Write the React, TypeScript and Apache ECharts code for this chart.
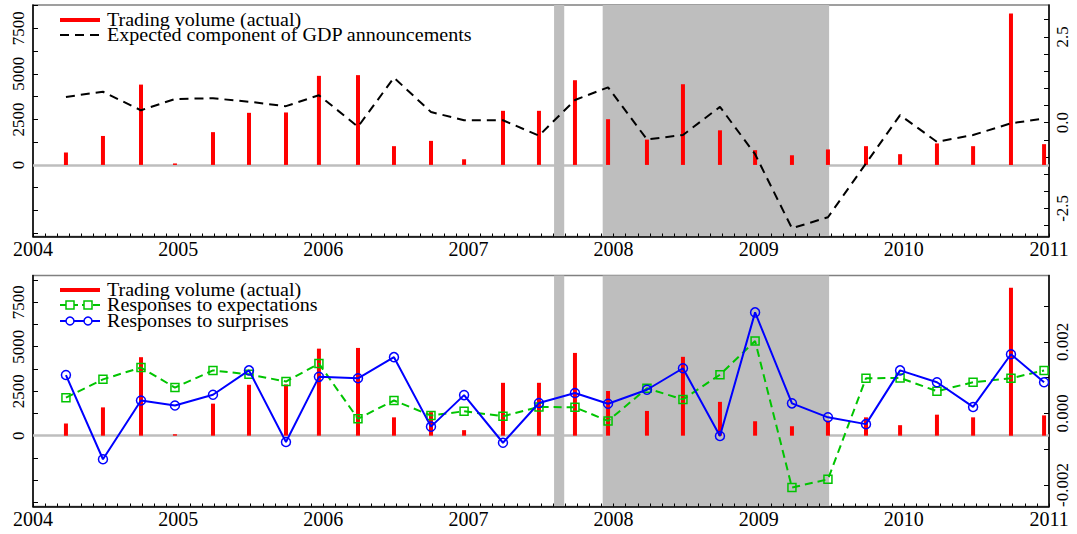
import { useEffect, useRef } from "react";
import * as echarts from "echarts";

// Announcement dates (decimal years)
const dates = [
  2004.227, 2004.482, 2004.744, 2004.978, 2005.24, 2005.488, 2005.743, 2005.97,
  2006.239, 2006.487, 2006.742, 2006.97, 2007.238, 2007.486, 2007.734, 2007.962,
  2008.23, 2008.478, 2008.733, 2008.975, 2009.229, 2009.477, 2009.739, 2009.974,
  2010.228, 2010.477, 2010.738, 2010.966,
];
// Trading volume (actual), left axis
const volume = [
  680, 1590, 4410, 80, 1800, 2860, 2880, 4890, 4930, 1030, 1320, 310, 2970, 2970,
  4650, 2510, 1390, 4430, 1900, 810, 530, 850, 1030, 590, 1180, 1030, 8310, 1140,
];
// Expected component of GDP announcements, top right axis
const expectedComponent = [
  0.75, 0.9, 0.36, 0.69, 0.71, 0.61, 0.48, 0.8, -0.12, 1.31, 0.31, 0.07, 0.07, -0.38,
  0.66, 1.03, -0.49, -0.36, 0.46, -0.92, -3.08, -2.76, -1.19, 0.22, -0.56, -0.36, -0.02, 0.12,
];
// Responses to expectations, bottom right axis
const respExpectations = [
  0.00044, 0.00095, 0.00128, 0.00072, 0.0012, 0.00109, 0.00089, 0.00139, -0.00015, 0.00036,
  -0.00006, 0.00006, -0.00008, 0.00018, 0.00017, -0.00021, 0.0007, 0.00039, 0.00108, 0.00202,
  -0.00207, -0.00184, 0.00098, 0.00099, 0.00062, 0.00087, 0.00098, 0.0012,
];
// Responses to surprises, bottom right axis
const respSurprises = [
  0.00107, -0.00128, 0.00036, 0.00022, 0.00052, 0.0012, -0.0008, 0.00102, 0.00098, 0.00157,
  -0.00037, 0.00051, -0.00082, 0.00029, 0.00057, 0.00027, 0.00066, 0.00126, -0.00063, 0.00282,
  0.00028, -0.00011, -0.0003, 0.0012, 0.00087, 0.00018, 0.00165, 0.00087,
];
// Shaded periods
const shaded = [
  [2007.59, 2007.66],
  [2007.925, 2009.485],
];
// Tick values and labels
const yearLabels = [2004, 2005, 2006, 2007, 2008, 2009, 2010, 2011];
const volumeTicks = [-3750, -2500, -1250, 0, 1250, 2500, 3750, 5000, 6250, 7500, 8750];
const volumeLabels = [0, 2500, 5000, 7500];
const gdpTicks = [-3, -2.5, -2, -1.5, -1, -0.5, 0, 0.5, 1, 1.5, 2, 2.5, 3];
const gdpLabels = [-2.5, 0, 2.5];
const respTicks = [-0.002, -0.001, 0, 0.001, 0.002, 0.003];
const respLabels = [-0.002, 0, 0.002];
const legendTop = ["Trading volume (actual)", "Expected component of GDP announcements"];
const legendBottom = ["Trading volume (actual)", "Responses to expectations", "Responses to surprises"];

const monthTicks: number[] = [];
for (let y = 2004; y < 2011; y++) for (let m = 0; m < 12; m++) monthTicks.push(y + m / 12);
monthTicks.push(2011);

const FONT = "'Liberation Serif', 'Times New Roman', serif";
const RED = "#ff0000";
const GREEN = "#00c400";
const BLUE = "#0000ff";
const SHADE = "#bebebe";

const pairs = (vals: number[]) => dates.map((d, i) => [d, vals[i]]);

function xAxisFor(grid: number) {
  return {
    type: "value",
    gridIndex: grid,
    min: 2004,
    max: 2011,
    axisLine: { show: true, onZero: false, lineStyle: { color: "#000", width: 1.5 } },
    axisTick: { show: true, inside: true, length: 3, customValues: monthTicks, lineStyle: { color: "#000", width: 1 } },
    axisLabel: {
      customValues: yearLabels,
      formatter: (v: number) => String(Math.round(v)),
      fontFamily: FONT,
      fontSize: 20,
      color: "#000",
      margin: 2,
    },
    splitLine: { show: false },
  };
}

function yAxisFor(grid: number, pos: string, min: number, max: number, ticks: number[], labels: number[], fmt: (v: number) => string, margin: number) {
  return {
    type: "value",
    gridIndex: grid,
    position: pos,
    min,
    max,
    axisLine: { show: true, onZero: false, lineStyle: { color: "#000", width: 1.5 } },
    axisTick: { show: true, inside: true, length: 5, customValues: ticks.filter((t) => t >= min && t <= max), lineStyle: { color: "#000", width: 1 } },
    axisLabel: {
      customValues: labels,
      formatter: fmt,
      rotate: 90,
      fontFamily: FONT,
      fontSize: 17,
      color: "#000",
      margin,
    },
    splitLine: { show: false },
  };
}

function volumeSeries(xi: number, yi: number) {
  return {
    type: "bar",
    name: legendTop[0],
    xAxisIndex: xi,
    yAxisIndex: yi,
    data: pairs(volume),
    barWidth: 4,
    itemStyle: { color: RED },
    z: 2,
    silent: true,
    markArea: {
      silent: true,
      z: 0,
      itemStyle: { color: SHADE },
      data: shaded.map(([a, b]) => [{ xAxis: a }, { xAxis: b }]),
    },
    markLine: {
      silent: true,
      z: 1,
      symbol: ["none", "none"],
      label: { show: false },
      lineStyle: { color: SHADE, width: 2.5, type: "solid" },
      data: [{ yAxis: 0 }],
    },
  };
}

function legendRow(y: number, kind: string, color: string, text: string) {
  const children: any[] = [];
  if (kind === "bar") {
    children.push({ type: "line", shape: { x1: 60, y1: y, x2: 100, y2: y }, style: { stroke: color, lineWidth: 4 } });
  } else if (kind === "dash") {
    children.push({ type: "line", shape: { x1: 60, y1: y, x2: 100, y2: y }, style: { stroke: color, lineWidth: 2, lineDash: [9, 6] } });
  } else if (kind === "square") {
    children.push({ type: "line", shape: { x1: 60, y1: y, x2: 100, y2: y }, style: { stroke: color, lineWidth: 2, lineDash: [7, 4] } });
    [70, 88].forEach((cx) =>
      children.push({ type: "rect", shape: { x: cx - 4, y: y - 4, width: 8, height: 8 }, style: { stroke: color, fill: "#fff", lineWidth: 1.5 } })
    );
  } else if (kind === "circle") {
    children.push({ type: "line", shape: { x1: 60, y1: y, x2: 100, y2: y }, style: { stroke: color, lineWidth: 2 } });
    [70, 88].forEach((cx) =>
      children.push({ type: "circle", shape: { cx, cy: y, r: 4 }, style: { stroke: color, fill: "#fff", lineWidth: 1.5 } })
    );
  }
  children.push({
    type: "text",
    x: 107,
    y,
    scaleX: 1.115,
    style: { text, fontFamily: FONT, fontSize: 18, fill: "#000", verticalAlign: "middle", align: "left" },
  });
  return { type: "group", children };
}

export default function App() {
  const ref = useRef<HTMLDivElement>(null);
  useEffect(() => {
    if (!ref.current) return;
    const chart = echarts.init(ref.current, null, { renderer: "svg" });
    const option: any = {
      animation: false,
      backgroundColor: "#fff",
      grid: [
        { left: 33, top: 5, width: 1016, height: 231.5, show: true, borderColor: "#808080", borderWidth: 1.5 },
        { left: 33, top: 275.5, width: 1016, height: 231, show: true, borderColor: "#808080", borderWidth: 1.5 },
      ],
      xAxis: [xAxisFor(0), xAxisFor(1)],
      yAxis: [
        yAxisFor(0, "left", -3930, 8780, volumeTicks, volumeLabels, (v) => String(v), 6),
        yAxisFor(0, "right", -3.32, 3.43, gdpTicks, gdpLabels, (v) => v.toFixed(1), 5),
        yAxisFor(1, "left", -3980, 9000, volumeTicks, volumeLabels, (v) => String(v), 6),
        yAxisFor(1, "right", -0.0026, 0.00385, respTicks, respLabels, (v) => v.toFixed(3), 5),
      ],
      series: [
        volumeSeries(0, 0),
        {
          type: "line",
          name: legendTop[1],
          xAxisIndex: 0,
          yAxisIndex: 1,
          data: pairs(expectedComponent),
          symbol: "none",
          lineStyle: { color: "#000", width: 2, type: [9, 6] },
          z: 3,
          silent: true,
        },
        volumeSeries(1, 2),
        {
          type: "line",
          name: legendBottom[1],
          xAxisIndex: 1,
          yAxisIndex: 3,
          data: pairs(respExpectations),
          symbol: "rect",
          symbolSize: 8,
          itemStyle: { color: "rgba(0,0,0,0)", borderColor: GREEN, borderWidth: 1.5 },
          lineStyle: { color: GREEN, width: 2, type: [8, 5] },
          z: 3,
          silent: true,
        },
        {
          type: "line",
          name: legendBottom[2],
          xAxisIndex: 1,
          yAxisIndex: 3,
          data: pairs(respSurprises),
          symbol: "circle",
          symbolSize: 9,
          itemStyle: { color: "rgba(0,0,0,0)", borderColor: BLUE, borderWidth: 1.5 },
          lineStyle: { color: BLUE, width: 2 },
          z: 4,
          silent: true,
        },
      ],
      graphic: [
        legendRow(20, "bar", RED, legendTop[0]),
        legendRow(35, "dash", "#000", legendTop[1]),
        legendRow(290, "bar", RED, legendBottom[0]),
        legendRow(305, "square", GREEN, legendBottom[1]),
        legendRow(321, "circle", BLUE, legendBottom[2]),
      ],
    };
    chart.setOption(option);
    return () => chart.dispose();
  }, []);
  return (
    <div
      ref={ref}
      style={{ position: "absolute", left: 0, top: 0, width: 1077, height: 534, background: "#fff" }}
    />
  );
}
